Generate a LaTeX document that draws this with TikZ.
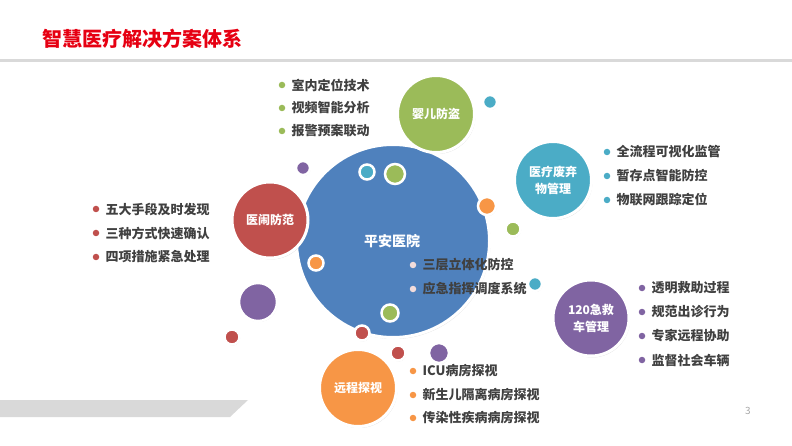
\documentclass[tikz,border=0pt]{standalone}
\usepackage{fontspec}
\setmainfont{Noto Sans CJK SC}
\usetikzlibrary{positioning, shadows}
\definecolor{TitleRed}{RGB}{230, 0, 18}
\definecolor{HospBlue}{RGB}{79, 129, 189}
\definecolor{GuardRed}{RGB}{192, 80, 77}
\definecolor{BabyGreen}{RGB}{155, 187, 89}
\definecolor{CarPurple}{RGB}{128, 100, 162}
\definecolor{WasteTeal}{RGB}{75, 172, 198}
\definecolor{VisitOrange}{RGB}{247, 150, 70}
\definecolor{TextGray}{RGB}{64, 64, 64}
\definecolor{PalePink}{RGB}{242, 220, 219}
\definecolor{BandGray}{RGB}{217, 217, 217}

\begin{document}
\begin{tikzpicture}[x=1pt, y=-1pt,
        bubble/.style={circle, draw=white, line width=3pt, inner sep=0pt, text=white, align=center,
            font=\bfseries\fontsize{12}{17}\selectfont,
            drop shadow={shadow xshift=1pt, shadow yshift=-1.5pt, opacity=0.25}},
        spot/.style={circle, draw=white, line width=2.5pt, inner sep=0pt,
            drop shadow={shadow xshift=0.6pt, shadow yshift=-1pt, opacity=0.25}},
        bul/.style={circle, inner sep=0pt, minimum size=6.5pt},
        item/.style={font=\bfseries\fontsize{13}{15}\selectfont, text=TextGray, inner sep=0pt}
    ]
        \useasboundingbox (0,0) rectangle (792,446);

        % header and footer
        \node[anchor=west, text=TitleRed, font=\bfseries\fontsize{20}{24}\selectfont, inner sep=0pt] (title) at (42,39) {智慧医疗解决方案体系};
        \fill[BandGray] (0,59) rectangle (792,62);
        \fill[BandGray] (0,400) -- (248,400) -- (230,417) -- (0,417) -- cycle;
        \node[text=gray!70, font=\fontsize{10}{12}\selectfont] (page) at (748,411) {3};

        % main hospital circle
        \node[bubble, fill=HospBlue, minimum size=193pt, font=\bfseries\fontsize{14}{17}\selectfont] (hosp) at (393,241) {};
        \node[text=white, font=\bfseries\fontsize{14}{17}\selectfont, inner sep=0pt] (hosptxt) at (392,241) {平安医院};

        % small spots
        \node[spot, fill=WasteTeal, minimum size=14pt] (s1) at (490,102) {};
        \node[spot, fill=CarPurple, minimum size=14pt] (s2) at (303,168) {};
        \node[spot, fill=WasteTeal, minimum size=15pt] (s3) at (367,172) {};
        \node[spot, fill=BabyGreen, minimum size=20pt] (s4) at (395,174) {};
        \node[spot, fill=VisitOrange, minimum size=18pt] (s5) at (487,206) {};
        \node[spot, fill=BabyGreen, minimum size=15pt] (s6) at (513,229) {};
        \node[spot, fill=VisitOrange, minimum size=15pt] (s7) at (316,263) {};
        \node[spot, fill=BabyGreen, minimum size=17pt] (s8) at (390,313) {};
        \node[spot, fill=GuardRed, minimum size=15pt] (s9) at (362,333) {};
        \node[spot, fill=GuardRed, minimum size=15pt] (s10) at (398,353) {};
        \node[spot, fill=CarPurple, minimum size=20pt] (s11) at (439,353) {};
        \node[spot, fill=CarPurple, minimum size=38pt] (s12) at (258,302) {};
        \node[spot, fill=GuardRed, minimum size=15pt] (s13) at (232,337) {};

        % topic circles
        \node[bubble, fill=BabyGreen, minimum size=77pt] (baby) at (436,114) {婴儿防盗};
        \node[bubble, fill=WasteTeal, minimum size=77pt] (waste) at (553,180) {医疗废弃\\物管理};
        \node[bubble, fill=GuardRed, minimum size=76pt] (guard) at (270,220) {医闹防范};
        \node[bubble, fill=VisitOrange, minimum size=77pt] (visit) at (358,388) {远程探视};
        \node[bubble, fill=CarPurple, minimum size=76pt] (car) at (591,318) {120急救\\车管理};
        \node[spot, fill=WasteTeal, minimum size=14pt] (s14) at (535,284) {};

        % baby bullets
        \node[bul, fill=BabyGreen] (bb1) at (282,85) {};
        \node[item, right=6pt of bb1] (bt1) {室内定位技术};
        \node[bul, fill=BabyGreen] (bb2) at (282,108) {};
        \node[item, right=6pt of bb2] (bt2) {视频智能分析};
        \node[bul, fill=BabyGreen] (bb3) at (282,131) {};
        \node[item, right=6pt of bb3] (bt3) {报警预案联动};

        % waste bullets
        \node[bul, fill=WasteTeal] (wb1) at (607,152) {};
        \node[item, right=6pt of wb1] (wt1) {全流程可视化监管};
        \node[bul, fill=WasteTeal] (wb2) at (607,176) {};
        \node[item, right=6pt of wb2] (wt2) {暂存点智能防控};
        \node[bul, fill=WasteTeal] (wb3) at (607,200) {};
        \node[item, right=6pt of wb3] (wt3) {物联网跟踪定位};

        % guard bullets
        \node[bul, fill=GuardRed] (gb1) at (96,209) {};
        \node[item, right=6pt of gb1] (gt1) {五大手段及时发现};
        \node[bul, fill=GuardRed] (gb2) at (96,233) {};
        \node[item, right=6pt of gb2] (gt2) {三种方式快速确认};
        \node[bul, fill=GuardRed] (gb3) at (96,257) {};
        \node[item, right=6pt of gb3] (gt3) {四项措施紧急处理};

        % hospital bullets
        \node[bul, fill=PalePink] (hb1) at (413,265) {};
        \node[item, right=6pt of hb1] (ht1) {三层立体化防控};
        \node[bul, fill=PalePink] (hb2) at (413,289) {};
        \node[item, right=6pt of hb2] (ht2) {应急指挥调度系统};

        % car bullets
        \node[bul, fill=CarPurple] (cb1) at (642,288) {};
        \node[item, right=6pt of cb1] (ct1) {透明救助过程};
        \node[bul, fill=CarPurple] (cb2) at (642,312) {};
        \node[item, right=6pt of cb2] (ct2) {规范出诊行为};
        \node[bul, fill=CarPurple] (cb3) at (642,336) {};
        \node[item, right=6pt of cb3] (ct3) {专家远程协助};
        \node[bul, fill=CarPurple] (cb4) at (642,360) {};
        \node[item, right=6pt of cb4] (ct4) {监督社会车辆};

        % visit bullets
        \node[bul, fill=VisitOrange] (vb1) at (413,371) {};
        \node[item, right=6pt of vb1] (vt1) {ICU病房探视};
        \node[bul, fill=VisitOrange] (vb2) at (413,395) {};
        \node[item, right=6pt of vb2] (vt2) {新生儿隔离病房探视};
        \node[bul, fill=VisitOrange] (vb3) at (413,418) {};
        \node[item, right=6pt of vb3] (vt3) {传染性疾病病房探视};
    \end{tikzpicture}
\end{document}
